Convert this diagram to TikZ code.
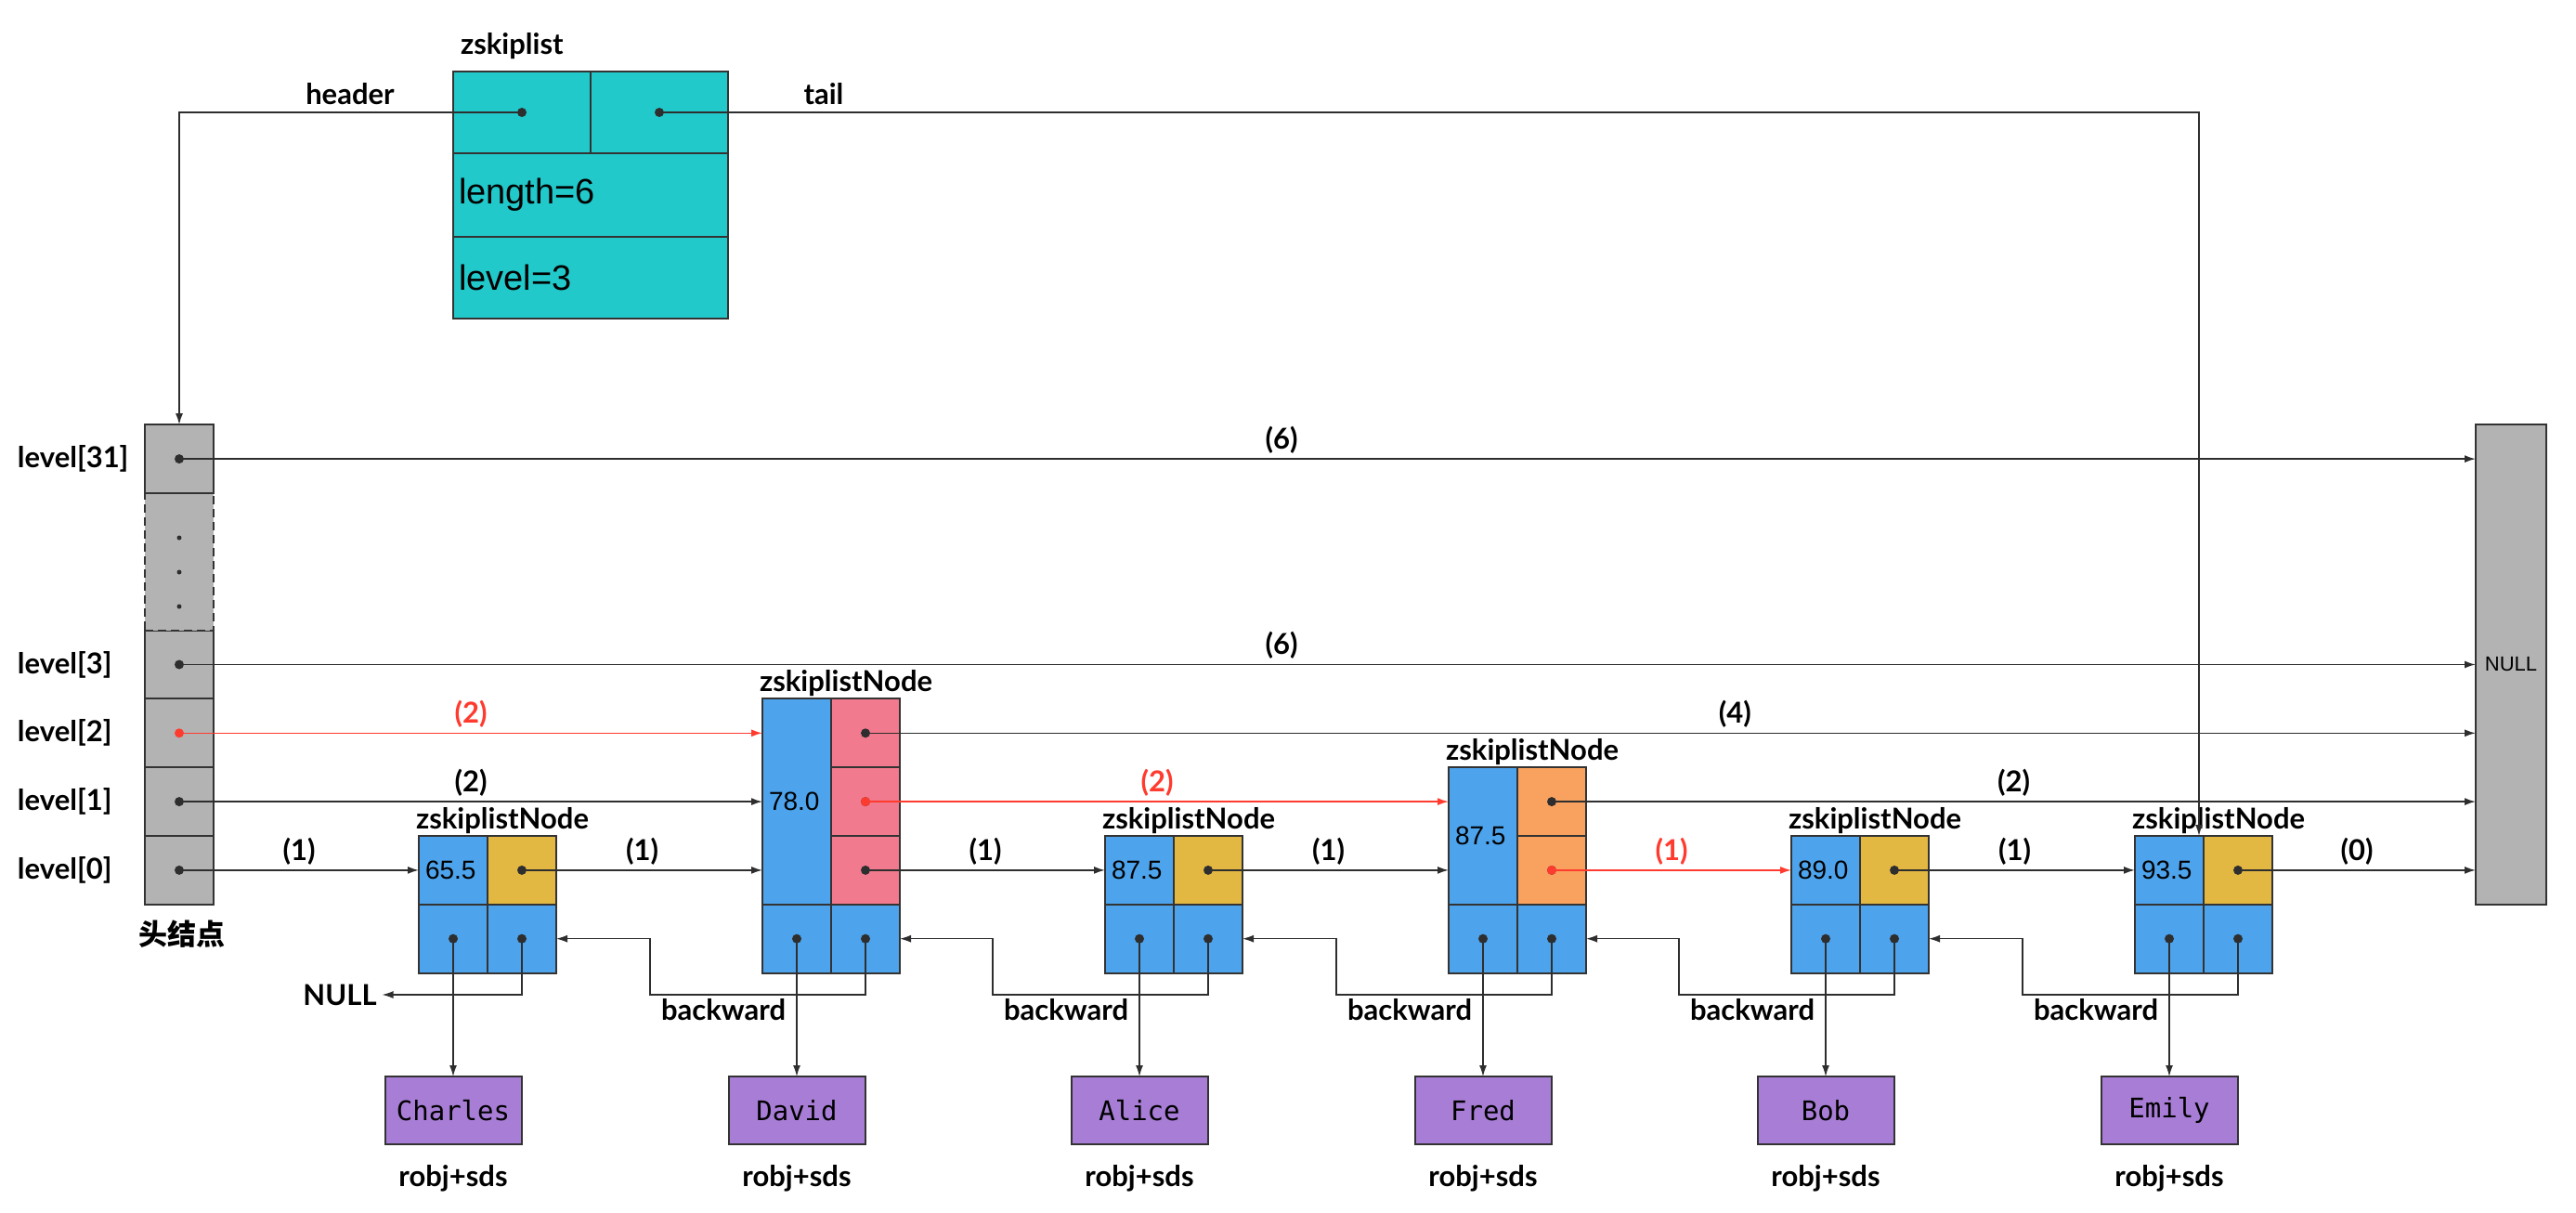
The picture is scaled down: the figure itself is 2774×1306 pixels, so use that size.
\documentclass[tikz,border=0pt]{standalone}
\usepackage{fontspec}
\setmainfont{Lato}
\setsansfont{Liberation Sans}
\setmonofont{DejaVu Sans Mono}
\newfontfamily\cjk{Noto Sans CJK SC}
\usetikzlibrary{arrows.meta,positioning}
\definecolor{bluec}{HTML}{4DA3EC}
\definecolor{goldc}{HTML}{E3B842}
\definecolor{pinkc}{HTML}{F27A8E}
\definecolor{orangec}{HTML}{F9A25F}
\definecolor{tealc}{HTML}{22C9CA}
\definecolor{purplec}{HTML}{A87DD6}
\definecolor{grayc}{HTML}{B3B3B3}
\definecolor{hotred}{HTML}{FF3B2F}
\definecolor{edgec}{HTML}{333333}
\definecolor{linec}{HTML}{2E2E2E}

\begin{document}
\begin{tikzpicture}[x=1pt, y=-1pt,
        every node/.style = {inner sep=0pt, outer sep=0pt},
        cell/.style = {draw=edgec, line width=2pt, minimum width=74pt,
                       minimum height=73.8pt, anchor=north west},
        lbl/.style = {font=\fontsize{31}{36}\selectfont\bfseries},
        num/.style = {font=\sffamily\fontsize{28}{32}\selectfont},
        fwd/.style = {draw=linec, line width=1.6pt, -{Latex[length=12pt,width=8pt]}},
        hot/.style = {fwd, draw=hotred},
        ptr/.style = {draw=linec, line width=1.3pt, -{Latex[length=12pt,width=8pt]}},
        objbox/.style = {draw=edgec, line width=2pt, fill=purplec, minimum width=147pt,
                         minimum height=73pt, font=\ttfamily\fontsize{29}{32}\selectfont}
    ]
    \useasboundingbox (0,0) rectangle (2774,1306);

    % zskiplist
    \node[cell, fill=tealc, minimum width=148pt, minimum height=88pt] (zsh) at (488,77) {};
    \node[cell, fill=tealc, minimum width=148pt, minimum height=88pt] (zst) at (636,77) {};
    \node[cell, fill=tealc, minimum width=296pt, minimum height=90pt] (zsl) at (488,165) {};
    \node[cell, fill=tealc, minimum width=296pt, minimum height=88pt] (zsv) at (488,255) {};
    \node[font=\sffamily\fontsize{38}{44}\selectfont, anchor=west] (zslen) at ([xshift=6pt]zsl.west) {length=6};
    \node[font=\sffamily\fontsize{38}{44}\selectfont, anchor=west] (zslvl) at ([xshift=6pt]zsv.west) {level=3};
    \node[lbl, anchor=base west] (zsname) at (496,59) {zskiplist};
    \node[lbl, anchor=base] (hdrtxt) at (377,112) {header};
    \node[lbl, anchor=base] (tailtxt) at (887,112) {tail};

    % header node
    \foreach \k in {0,...,3} {
        \node[cell, fill=grayc] (h\k) at (156, {900-73.8*\k}) {};
        \node[lbl, anchor=west] (lvl\k) at ([xshift=-137pt]h\k.west) {level[\k]};
    }
    \node[cell, fill=grayc, dash pattern=on 9pt off 5pt, minimum height=147.6pt] (hd) at (156,531) {};
    \node[cell, fill=grayc] (h31) at (156,457.2) {};
    \node[lbl, anchor=west] (lvl31) at ([xshift=-137pt]h31.west) {level[31]};
    \node[font=\cjk\bfseries\fontsize{31}{36}\selectfont] (headname) at (196,1006) {头结点};
    \foreach \y in {579,616,653}
        \fill[linec] (193,\y) circle (2.5pt);

    % NULL
    \node[cell, fill=grayc, minimum width=76pt, minimum height=516.6pt] (nul) at (2666,457.2) {};
    \node[font=\sffamily\fontsize{22}{26}\selectfont] (nultxt) at (nul.center |- h3.center) {NULL};

    % skiplist nodes
    \foreach \i/\xx/\n/\score/\col/\who in {1/451/1/65.5/goldc/Charles, 2/821/3/78.0/pinkc/David,
            3/1190/1/87.5/goldc/Alice, 4/1560/2/87.5/orangec/Fred, 5/1929/1/89.0/goldc/Bob,
            6/2299/1/93.5/goldc/Emily} {
        \pgfmathtruncatemacro\kmax{\n-1}
        \node[cell, fill=bluec, anchor=south west, minimum height={73.8pt*\n}] (s\i) at (\xx,973.8) {};
        \node[num, anchor=west] (sc\i) at ([xshift=7pt]s\i.west) {\score};
        \foreach \k in {0,...,\kmax} {
            \node[cell, fill=\col, anchor=south west] (lv\i\k) at ({\xx+74}, {973.8-73.8*\k}) {};
            \fill[linec] (lv\i\k.center) circle (5pt);
        }
        \node[cell, fill=bluec] (o\i) at (\xx,973.8) {};
        \node[cell, fill=bluec] (b\i) at ({\xx+74},973.8) {};
        \fill[linec] (o\i.center) circle (5pt) (b\i.center) circle (5pt);
        \node[lbl, anchor=base west] (nm\i) at ([xshift=-3pt, yshift=8pt]s\i.north west) {zskiplistNode};
        \node[objbox] (obj\i) at ({\xx+37},1195.5) {\who};
        \node[lbl, below=22pt of obj\i] (rs\i) {robj+sds};
        \draw[ptr] (o\i.center) -- (obj\i);
        \coordinate (bk\i) at ({\xx-121},1071);
    }

    % dots of the header
    \foreach \k in {0,1,3,31}
        \fill[linec] (h\k.center) circle (5pt);
    \fill[hotred] (h2.center) circle (5pt) (lv21.center) circle (5pt) (lv40.center) circle (5pt);
    \fill[linec] (zsh.center) circle (5pt) (zst.center) circle (5pt);

    % header and tail
    \draw[fwd] (zsh.center) -| (h31.north);
    \draw[fwd] ([xshift=-2pt]zst.center) -| ([xshift=-5pt]s6.north east);

    % forward pointers
    \foreach \a/\b/\w/\p in {h0/s1/1/.5, lv10/s2/1/.5, lv20/s3/1/.5, lv30/s4/1/.5, lv50/s6/1/.5,
            lv60/nul/0/.5, h1/s2/2/.5, lv41/nul/2/.5, lv22/nul/4/.54, h3/nul/6/.48, h31/nul/6/.48}
        \draw[fwd] (\a.center) -- (\b.west |- \a.center) node[lbl, pos=\p, above=6pt] {(\w)};
    \foreach \a/\b/\w in {h2/s2/2, lv21/s4/2, lv40/s5/1}
        \draw[hot] (\a.center) -- (\b.west |- \a.center) node[lbl, text=hotred, midway, above=6pt] {(\w)};

    % backward pointers
    \node[lbl] (nil) at (366,1071) {NULL};
    \draw[ptr, shorten >=6pt] (b1.center) |- (nil.east);
    \foreach \i/\j in {2/1,3/2,4/3,5/4,6/5} {
        \draw[ptr] (b\i.center) |- (bk\i) |- (b\j.east);
        \node[lbl, anchor=north west] (bw\i) at ([xshift=12pt, yshift=-4pt]bk\i) {backward};
    }
\end{tikzpicture}
\end{document}
